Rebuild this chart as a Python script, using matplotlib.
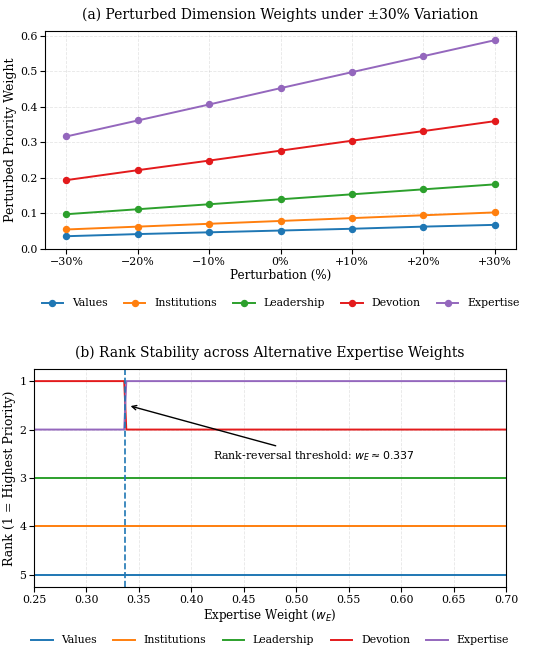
import numpy as np
import matplotlib
matplotlib.use('Agg')
import matplotlib.pyplot as plt

plt.rcParams['font.family'] = 'DejaVu Serif'

dims = ['Values', 'Institutions', 'Leadership', 'Devotion', 'Expertise']
colors = ['#1f77b4', '#ff7f0e', '#2ca02c', '#e31a1c', '#9467bd']

# (a) perturbed weights
pert_labels = ['\u221230%', '\u221220%', '\u221210%', '0%', '+10%', '+20%', '+30%']
w_values = [0.036, 0.042, 0.047, 0.052, 0.057, 0.063, 0.068]
w_institutions = [0.055, 0.063, 0.071, 0.079, 0.087, 0.095, 0.103]
w_leadership = [0.098, 0.112, 0.126, 0.140, 0.154, 0.168, 0.182]
w_devotion = [0.194, 0.222, 0.249, 0.277, 0.305, 0.332, 0.360]
w_expertise = [0.317, 0.362, 0.407, 0.453, 0.498, 0.543, 0.588]

# (b) ranks vs expertise weight
w_grid = [0.25, 0.336, 0.338, 0.70]
r_values = [5, 5, 5, 5]
r_institutions = [4, 4, 4, 4]
r_leadership = [3, 3, 3, 3]
r_devotion = [1, 1, 2, 2]
r_expertise = [2, 2, 1, 1]
threshold = 0.337

fig = plt.figure(figsize=(5.5, 6.53), dpi=100)
W, H = 550, 653

# panel a
ax1 = fig.add_axes([45 / W, 1 - 249 / H, (516 - 45) / W, (249 - 31) / H])
xs = np.arange(len(pert_labels))
series_a = [w_values, w_institutions, w_leadership, w_devotion, w_expertise]
for name, col, vals in zip(dims, colors, series_a):
    ax1.plot(xs, vals, marker='o', ms=4.3, lw=1.4, color=col, label=name)
ax1.set_xticks(xs)
ax1.set_xticklabels(pert_labels)
ax1.set_ylim(0, 0.614)
ax1.set_xlabel('Perturbation (%)', fontsize=8.6, labelpad=2)
ax1.set_ylabel('Perturbed Priority Weight', fontsize=9, labelpad=2)
ax1.set_title('(a) Perturbed Dimension Weights under \u00b130% Variation', fontsize=10, pad=9)
ax1.grid(True, ls='--', alpha=0.3, lw=0.6)
ax1.tick_params(labelsize=7.9, pad=2)
ax1.legend(loc='center', bbox_to_anchor=(0.5, -0.25), ncol=5, frameon=False,
           fontsize=7.8, handlelength=2, columnspacing=1.5)

# panel b
ax2 = fig.add_axes([34 / W, 1 - 587 / H, (506 - 34) / W, (587 - 369) / H])
series_b = [r_values, r_institutions, r_leadership, r_devotion, r_expertise]
for name, col, vals in zip(dims, colors, series_b):
    ax2.plot(w_grid, vals, lw=1.4, color=col, label=name)
ax2.axvline(threshold, color='#1f77b4', ls='--', lw=1.2)
ax2.annotate('Rank-reversal threshold: $w_E \\approx 0.337$', xy=(0.3395, 1.5), xytext=(0.4205, 2.55),
             ha='left', va='center', fontsize=7.9,
             arrowprops=dict(arrowstyle='->', color='black', lw=1.0))
ax2.set_xlim(0.25, 0.70)
ax2.set_ylim(5.25, 0.75)
ax2.set_yticks([1, 2, 3, 4, 5])
ax2.set_xticks(np.arange(0.25, 0.7001, 0.05))
ax2.xaxis.set_major_formatter(plt.FormatStrFormatter('%.2f'))
ax2.set_xlabel('Expertise Weight ($w_E$)', fontsize=8.6, labelpad=2)
ax2.set_ylabel('Rank (1 = Highest Priority)', fontsize=9, labelpad=2)
ax2.set_title('(b) Rank Stability across Alternative Expertise Weights', fontsize=10, pad=9)
ax2.grid(True, ls='--', alpha=0.3, lw=0.6)
ax2.tick_params(labelsize=7.9, pad=2)
ax2.legend(loc='center', bbox_to_anchor=(0.5, -0.245), ncol=5, frameon=False,
           fontsize=7.8, handlelength=2, columnspacing=1.5)

fig.savefig('out.png', dpi=100)
